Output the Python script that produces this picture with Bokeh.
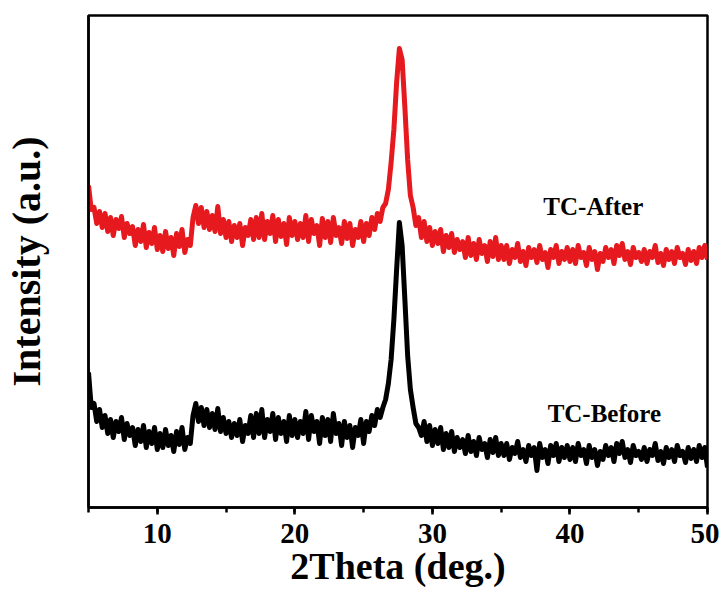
import numpy as np
from bokeh.plotting import figure
from bokeh.models import Range1d, SingleIntervalTicker, FixedTicker, Label
from bokeh.embed import file_html
from bokeh.resources import INLINE

# 2Theta sampling grid (deg.)
two_theta_start = 5.0
two_theta_step = 0.2

# Intensity (a.u.), as displayed (stacked)
tc_after = [
    322, 298, 300, 284, 296, 280,
    294, 276, 290, 272, 288, 279, 291, 270, 284, 274,
    281, 262, 278, 266, 283, 260, 275, 264, 280, 258,
    272, 256, 276, 259, 270, 252, 274, 261, 278, 255, 268, 262,
    290, 302, 284, 300, 280, 296, 278, 292, 276, 301, 274, 288, 270,
    286, 266, 282, 270, 284, 262, 280, 272, 288, 268,
    290, 270, 294, 268, 286, 274, 292, 266, 288, 271, 284, 263, 290, 272, 286,
    268, 284, 270, 292, 266, 288, 274, 282, 262, 289, 270, 286, 265, 290, 272,
    280, 264, 286, 269, 284, 262, 278, 270, 286, 266,
    284, 272, 290, 278, 294, 286, 300, 304, 318, 345, 378, 425, 459, 448, 400,
    348, 312, 300, 282, 290,
    270, 286, 266, 280, 262, 276, 264, 278, 256, 272, 260, 274, 255, 268, 258,
    266, 250, 270, 252, 264, 248, 268, 254, 262, 246, 266, 251, 270, 248, 262,
    248, 262, 244, 258, 250, 264, 246, 256, 242, 260, 250, 258, 245, 262, 248,
    255, 240, 258, 250, 262, 244, 256, 248, 260, 246,
    258, 244, 262, 250, 255, 242, 260, 248, 256, 238, 254, 246, 260, 250, 258,
    244, 262, 252, 264, 248, 256, 243, 260, 250, 255,
    246, 258, 244, 256, 250, 262, 245, 254, 242, 258, 248, 256, 244, 260, 250,
    254, 243, 258, 247, 256, 244, 260, 250, 262, 248,
]

tc_before = [
    135, 100, 104, 86, 98, 80,
    92, 74, 88, 70, 86, 76, 90, 68, 84, 72,
    80, 62, 78, 66, 82, 60, 76, 64, 80, 58,
    74, 60, 78, 62, 72, 56, 76, 63, 80, 58, 70, 64,
    92, 104, 86, 100, 82, 98, 80, 94, 78, 99, 76, 90, 74,
    86, 70, 84, 72, 88, 66, 82, 74, 92, 70,
    94, 74, 98, 70, 88, 76, 94, 68, 90, 74, 86, 66, 92, 72, 88,
    70, 86, 74, 96, 68, 92, 76, 86, 64, 90, 72, 88, 66, 94, 74,
    84, 62, 86, 70, 82, 60, 80, 72, 88, 64,
    86, 76, 92, 82, 98, 90, 100, 108, 124, 148, 188, 238, 285, 262, 208,
    152, 118, 100, 84, 80,
    72, 86, 66, 82, 62, 78, 64, 80, 58, 74, 60, 76, 56, 70, 60,
    68, 54, 72, 56, 66, 52, 70, 58, 64, 50, 68, 55, 70, 52, 64,
    52, 64, 48, 60, 54, 66, 50, 58, 46, 62, 52, 60, 37, 64, 50,
    58, 44, 62, 52, 64, 46, 60, 50, 62, 48,
    60, 46, 64, 52, 58, 44, 62, 50, 58, 42, 56, 48, 62, 52, 60,
    46, 64, 54, 66, 50, 58, 45, 62, 52, 56,
    48, 60, 46, 58, 52, 64, 47, 56, 44, 60, 50, 58, 46, 62, 52,
    56, 45, 60, 49, 58, 46, 62, 50, 60, 40,
]

series_names = ["TC-After", "TC-Before"]
series_colors = ["#E6191E", "#000000"]
label_pos_x = [41.7, 42.5]
label_pos_y = [301, 94]

x_min, x_max = 5, 50
y_min, y_max = 0, 492

assert len(tc_after) == len(tc_before) == 226
two_theta = np.round(two_theta_start + two_theta_step * np.arange(len(tc_after)), 2)

FONT = "Liberation Serif"

p = figure(
    frame_width=619, frame_height=492,
    x_range=Range1d(x_min, x_max), y_range=Range1d(y_min, y_max),
    output_backend="svg", toolbar_location=None,
    min_border_left=84, min_border_right=12, min_border_top=15, min_border_bottom=60,
    background_fill_color="white", border_fill_color="white",
)
p.grid.visible = False
p.outline_line_color = "black"
p.outline_line_width = 2.5

for ys, col in zip([tc_after, tc_before], series_colors):
    p.line(two_theta, ys, line_color=col, line_width=5, line_join="round")

for name, lx, ly in zip(series_names, label_pos_x, label_pos_y):
    p.add_layout(Label(x=lx, y=ly, text=name, text_align="center",
                       text_baseline="alphabetic", text_font=FONT,
                       text_font_style="bold", text_font_size="25px",
                       text_color="black"))

# x axis
xa = p.xaxis[0]
xa.ticker = SingleIntervalTicker(interval=10, num_minor_ticks=2)
xa.axis_label = "2Theta (deg.)"
xa.axis_label_text_font = FONT
xa.axis_label_text_font_style = "bold"
xa.axis_label_text_font_size = "38px"
xa.axis_label_text_color = "black"
xa.axis_label_standoff = -1
xa.major_label_text_font = FONT
xa.major_label_text_font_style = "bold"
xa.major_label_text_font_size = "29px"
xa.major_label_text_color = "black"
xa.major_label_standoff = 9
xa.axis_line_width = 2.5
xa.axis_line_color = "black"
xa.major_tick_line_width = 2.5
xa.major_tick_line_color = "black"
xa.minor_tick_line_width = 2.5
xa.minor_tick_line_color = "black"
xa.major_tick_out = 7
xa.major_tick_in = 0
xa.minor_tick_out = 5
xa.minor_tick_in = 0

# y axis
ya = p.yaxis[0]
ya.ticker = FixedTicker(ticks=[])
ya.axis_label = "Intensity (a.u.)"
ya.axis_label_text_font = FONT
ya.axis_label_text_font_style = "bold"
ya.axis_label_text_font_size = "40px"
ya.axis_label_text_color = "black"
ya.axis_label_standoff = 40
ya.axis_line_width = 2.5
ya.axis_line_color = "black"
ya.major_tick_line_color = None
ya.minor_tick_line_color = None
ya.major_label_text_font_size = "0px"

open("out.html", "w").write(file_html(p, INLINE))
